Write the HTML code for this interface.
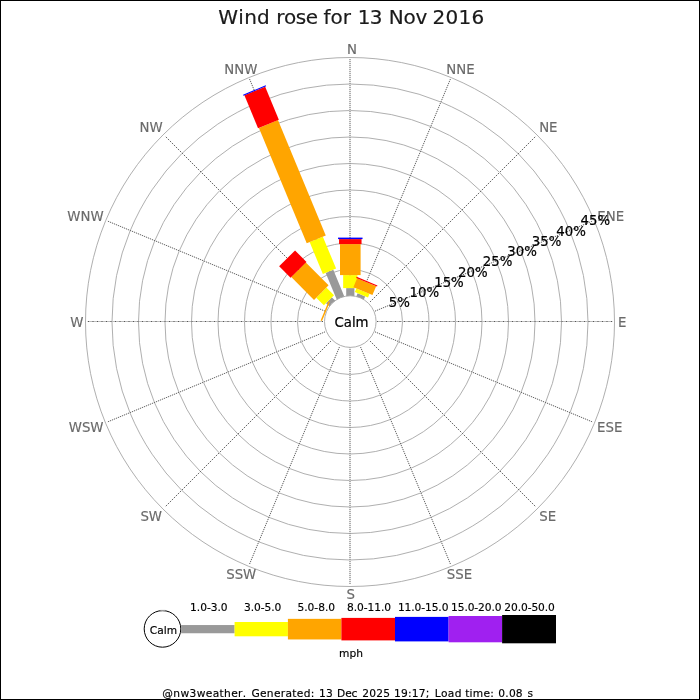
<!DOCTYPE html>
<html lang="en">
<head>
<meta charset="utf-8">
<title>Wind rose for 13 Nov 2016</title>
<style>
html,body{margin:0;padding:0;background:#fff;}
body{width:700px;height:700px;overflow:hidden;}
svg{display:block;}
text{font-family:"DejaVu Sans","Liberation Sans",sans-serif;font-kerning:none;}
.dir{font-size:13.33px;fill:#6a6a6a;stroke:#6a6a6a;stroke-width:0.15px;}
.pct{font-size:13.33px;fill:#000000;stroke:#000;stroke-width:0.2px;}
.leg{font-size:10.67px;fill:#000000;stroke:#000;stroke-width:0.15px;}
.ttl{font-size:20px;fill:#1a1a1a;stroke:#1a1a1a;stroke-width:0.2px;}
.ftr{font-size:10.67px;fill:#000000;stroke:#000;stroke-width:0.15px;}
</style>
</head>
<body>
<svg width="700" height="700" viewBox="0 0 700 700">
<rect x="0" y="0" width="700" height="700" fill="#ffffff"/>
<g fill="none" stroke="#a6a6a6" stroke-width="0.9">
<circle cx="350" cy="322" r="52.5"/>
<circle cx="350" cy="322" r="79"/>
<circle cx="350" cy="322" r="105.5"/>
<circle cx="350" cy="322" r="132"/>
<circle cx="350" cy="322" r="158.5"/>
<circle cx="350" cy="322" r="185"/>
<circle cx="350" cy="322" r="211.5"/>
<circle cx="350" cy="322" r="238"/>
<circle cx="350" cy="322" r="264.5"/>
</g>
<g stroke="#bdbdbd" stroke-width="1">
<line x1="377" y1="321.5" x2="612.5" y2="321.5"/>
<line x1="323" y1="321.5" x2="87.5" y2="321.5"/>
</g>
<g stroke="#dcdcdc" stroke-width="0.8">
<line x1="370" y1="302" x2="536" y2="136"/>
<line x1="370" y1="341" x2="536" y2="507"/>
<line x1="331" y1="341" x2="165" y2="507"/>
<line x1="331" y1="302" x2="165" y2="136"/>
<line x1="360.56" y1="296" x2="450.45" y2="78.98"/>
<line x1="375" y1="311.14" x2="592.52" y2="221.05"/>
<line x1="375" y1="331.86" x2="592.52" y2="421.95"/>
<line x1="360.56" y1="347" x2="450.45" y2="564.02"/>
<line x1="339.44" y1="347" x2="249.55" y2="564.02"/>
<line x1="325" y1="331.86" x2="107.48" y2="421.95"/>
<line x1="325" y1="311.14" x2="107.48" y2="221.05"/>
<line x1="339.44" y1="296" x2="249.55" y2="78.98"/>
</g>
<g stroke="#555555" stroke-width="1" stroke-dasharray="1 3.5">
<line x1="377" y1="321.5" x2="612.5" y2="321.5"/>
<line x1="323" y1="321.5" x2="87.5" y2="321.5"/>
</g>
<g stroke="#e0e0e0" stroke-width="1">
<line x1="350" y1="296" x2="350" y2="59"/>
<line x1="350" y1="347" x2="350" y2="584"/>
</g>
<g stroke="#707070" stroke-width="1" stroke-dasharray="1 1">
<line x1="350" y1="296" x2="350" y2="59"/>
<line x1="350" y1="347" x2="350" y2="584"/>
</g>
<g stroke="#4a4a4a" stroke-width="0.8" stroke-dasharray="1.4142 1.4142">
<line x1="370" y1="302" x2="536" y2="136"/>
<line x1="370" y1="341" x2="536" y2="507"/>
<line x1="331" y1="341" x2="165" y2="507"/>
<line x1="331" y1="302" x2="165" y2="136"/>
</g>
<g stroke="#4a4a4a" stroke-width="0.8" stroke-dasharray="1.0824 1.0824">
<line x1="360.56" y1="296" x2="450.45" y2="78.98"/>
<line x1="375" y1="311.14" x2="592.52" y2="221.05"/>
<line x1="375" y1="331.86" x2="592.52" y2="421.95"/>
<line x1="360.56" y1="347" x2="450.45" y2="564.02"/>
<line x1="339.44" y1="347" x2="249.55" y2="564.02"/>
<line x1="325" y1="331.86" x2="107.48" y2="421.95"/>
<line x1="325" y1="311.14" x2="107.48" y2="221.05"/>
<line x1="339.44" y1="296" x2="249.55" y2="78.98"/>
</g>
<g>
<polygon fill="#999999" points="354.4,296.6 354.4,288.1 346.2,288.1 346.2,296.6"/>
<polygon fill="#ffff00" points="357.45,288.1 357.45,275.1 343.15,275.1 343.15,288.1"/>
<polygon fill="#ffa500" points="360.6,275.1 360.6,244.1 340,244.1 340,275.1"/>
<polygon fill="#ff0000" points="361.55,244.1 361.55,239.1 339.05,239.1 339.05,244.1"/>
<polygon fill="#0000ff" points="362.55,239.1 362.55,237.6 338.05,237.6 338.05,239.1"/>
<polygon fill="#999999" points="363.65,300.07 365.19,296.38 357.61,293.24 356.08,296.93"/>
<polygon fill="#ffff00" points="368,297.54 369.53,293.85 356.32,288.38 354.79,292.07"/>
<polygon fill="#ffa500" points="372.44,295.05 376.12,286.18 357.09,278.3 353.41,287.17"/>
<polygon fill="#ff0000" points="377,286.55 377.46,285.44 356.67,276.83 356.21,277.94"/>
<polygon fill="#999999" points="344.52,296.93 333.27,269.77 325.69,272.91 336.95,300.07"/>
<polygon fill="#ffff00" points="336.09,268.6 322.85,236.64 309.64,242.11 322.88,274.08"/>
<polygon fill="#ffa500" points="325.76,235.43 277.96,120.04 258.93,127.92 306.73,243.32"/>
<polygon fill="#ff0000" points="278.84,119.68 265.18,86.69 244.39,95.3 258.05,128.29"/>
<polygon fill="#0000ff" points="266.1,86.31 265.68,85.3 243.04,94.67 243.46,95.69"/>
<polygon fill="#999999" points="335.52,301.02 331.84,297.35 326.05,303.14 329.72,306.82"/>
<polygon fill="#ffff00" points="334,295.19 326.36,287.55 316.25,297.66 323.89,305.3"/>
<polygon fill="#ffa500" points="328.59,285.33 305.82,262.56 291.26,277.12 314.03,299.89"/>
<polygon fill="#ff0000" points="306.49,261.88 295.04,250.43 279.13,266.34 290.58,277.79"/>
</g>
<circle cx="350.3" cy="321.6" r="25.8" fill="#ffffff" stroke="#a6a6a6" stroke-width="0.9"/>
<line x1="329.2" y1="301.71" x2="321.32" y2="320.75" stroke="#ffa500" stroke-width="1.5"/>
<text style="font-size:13.33px;fill:#000;stroke:#000;stroke-width:0.2px;" x="334.41" y="327">Calm</text>
<text class="dir" x="347.01" y="54">N</text>
<text class="dir" x="446.19" y="74">NNE</text>
<text class="dir" x="539.13" y="132">NE</text>
<text class="dir" x="597.26" y="221">ENE</text>
<text class="dir" x="617.94" y="327">E</text>
<text class="dir" x="597.12" y="432">ESE</text>
<text class="dir" x="539.35" y="521">SE</text>
<text class="dir" x="446.76" y="579">SSE</text>
<text class="dir" x="346.55" y="599">S</text>
<text class="dir" x="226.18" y="579">SSW</text>
<text class="dir" x="140.41" y="521">SW</text>
<text class="dir" x="68.74" y="432">WSW</text>
<text class="dir" x="70.21" y="327">W</text>
<text class="dir" x="67.28" y="221">WNW</text>
<text class="dir" x="139.59" y="132">NW</text>
<text class="dir" x="224.25" y="74">NNW</text>
<text class="pct" x="388.86" y="307">5%</text>
<text class="pct" x="409.58" y="297">10%</text>
<text class="pct" x="434.16" y="287">15%</text>
<text class="pct" x="457.99" y="277">20%</text>
<text class="pct" x="482.87" y="266">25%</text>
<text class="pct" x="507.33" y="256">30%</text>
<text class="pct" x="531.81" y="246">35%</text>
<text class="pct" x="556.27" y="236">40%</text>
<text class="pct" x="580.45" y="225">45%</text>
<text class="ttl" y="24"><tspan x="218.34" style="letter-spacing:0.26px">Wind</tspan> <tspan x="276.18" style="letter-spacing:-0.43px">rose</tspan> <tspan x="323.54" style="letter-spacing:-0.02px">for</tspan> <tspan x="357.8" style="letter-spacing:-0.85px">13</tspan> <tspan x="388.84" style="letter-spacing:-0.24px">Nov</tspan> <tspan x="432.54" style="letter-spacing:0.28px">2016</tspan></text>
<circle cx="162.5" cy="628.9" r="18.3" fill="#fff" stroke="#000" stroke-width="1"/>
<rect x="160.3" y="609.9" width="5.1" height="1.4" fill="#999999"/>
<text class="leg" x="149.83" y="634">Calm</text>
<rect x="181.1" y="625.05" width="53.5" height="8.2" fill="#999999"/>
<rect x="234.6" y="622" width="53.3" height="14.3" fill="#ffff00"/>
<rect x="287.9" y="618.85" width="53.5" height="20.6" fill="#ffa500"/>
<rect x="341.4" y="617.9" width="53.6" height="22.5" fill="#ff0000"/>
<rect x="395" y="616.9" width="53.6" height="24.5" fill="#0000ff"/>
<rect x="448.6" y="616" width="53.5" height="26.3" fill="#a020f0"/>
<rect x="502.1" y="615" width="53.9" height="28.3" fill="#000000"/>
<text class="leg" style="letter-spacing:-0.02px;" x="190.03" y="611">1.0-3.0</text>
<text class="leg" style="letter-spacing:-0.08px;" x="243.99" y="611">3.0-5.0</text>
<text class="leg" style="letter-spacing:-0.03px;" x="297.48" y="611">5.0-8.0</text>
<text class="leg" style="letter-spacing:-0.09px;" x="347.08" y="611">8.0-11.0</text>
<text class="leg" style="letter-spacing:-0.1px;" x="397.93" y="611">11.0-15.0</text>
<text class="leg" style="letter-spacing:-0.1px;" x="451.03" y="611">15.0-20.0</text>
<text class="leg" style="letter-spacing:-0.1px;" x="504.32" y="611">20.0-50.0</text>
<text class="leg" x="339.05" y="657">mph</text>
<text class="ftr" y="697"><tspan x="162.31" style="letter-spacing:0.36px">@nw3weather.</tspan> <tspan x="251.41" style="letter-spacing:0.31px">Generated:</tspan> <tspan x="318.98" style="letter-spacing:0.25px">13</tspan> <tspan x="337.1" style="letter-spacing:-0.12px">Dec</tspan> <tspan x="362.27" style="letter-spacing:0.22px">2025</tspan> <tspan x="393.98" style="letter-spacing:0.21px">19:17;</tspan> <tspan x="434.7" style="letter-spacing:0.34px">Load</tspan> <tspan x="465.16" style="letter-spacing:0.28px">time:</tspan> <tspan x="498.35" style="letter-spacing:0.19px">0.08</tspan> <tspan x="527.54" style="letter-spacing:0px">s</tspan></text>
<rect x="0.5" y="0.5" width="699" height="699" fill="none" stroke="#000" stroke-width="1"/>
</svg>
</body>
</html>
